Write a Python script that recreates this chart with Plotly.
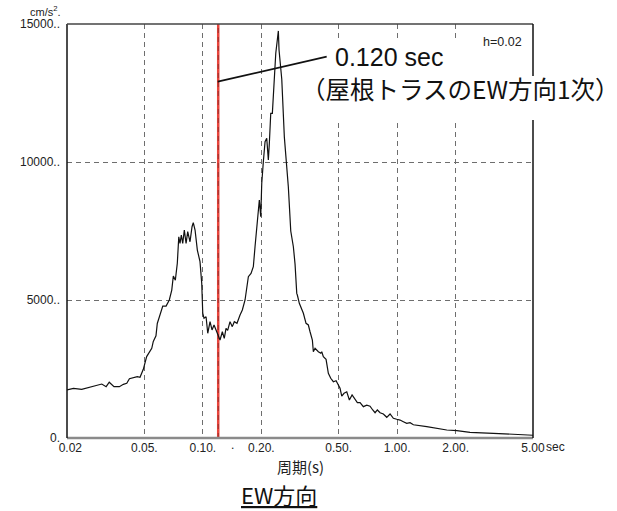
import plotly.graph_objects as go

# ---------------- data ----------------
period = [0.0200, 0.0216, 0.0238, 0.0263, 0.0284, 0.0302, 0.0318, 0.0330, 0.0349, 0.0372,
          0.0390, 0.0406, 0.0419, 0.0439, 0.0460, 0.0475, 0.0494, 0.0514, 0.0546, 0.0556,
          0.0574, 0.0583, 0.0590, 0.0607, 0.0622, 0.0647, 0.0672, 0.0692, 0.0705, 0.0722,
          0.0739, 0.0752, 0.0763, 0.0775, 0.0788, 0.0803, 0.0820, 0.0836, 0.0859, 0.0880,
          0.0893, 0.0912, 0.0937, 0.0967, 0.0987, 0.0999, 0.1014, 0.1039, 0.1060, 0.1089,
          0.1115, 0.1142, 0.1179, 0.1216, 0.1226, 0.1260, 0.1289, 0.1316, 0.1342, 0.1380,
          0.1418, 0.1452, 0.1499, 0.1554, 0.1597, 0.1649, 0.1683, 0.1715, 0.1770, 0.1819,
          0.1856, 0.1894, 0.1930, 0.1953, 0.1986, 0.2010, 0.2048, 0.2090, 0.2132, 0.2173,
          0.2199, 0.2236, 0.2279, 0.2317, 0.2373, 0.2447, 0.2467, 0.2548, 0.2627, 0.2754,
          0.2834, 0.2923, 0.2982, 0.3043, 0.3064, 0.3137, 0.3229, 0.3291, 0.3397, 0.3491,
          0.3562, 0.3661, 0.3704, 0.3780, 0.3931, 0.4044, 0.4092, 0.4170, 0.4306, 0.4424,
          0.4552, 0.4696, 0.4849, 0.4982, 0.5082, 0.5186, 0.5329, 0.5503, 0.5676, 0.5861,
          0.6071, 0.6240, 0.6443, 0.6699, 0.6975, 0.7251, 0.7487, 0.7696, 0.7907, 0.8166,
          0.8491, 0.8839, 0.9192, 0.9560, 0.9954, 1.035, 1.076, 1.120, 1.165, 1.212,
          1.420, 1.662, 1.800, 2.027, 2.372, 3.126, 3.811, 5.000]
accel = [1740, 1800, 1765, 1835, 1885, 1955, 1860, 2020, 1860, 1860,
         1945, 1980, 2150, 2185, 2220, 2200, 2490, 2950, 3250, 3500,
         3700, 4150, 4275, 4520, 4780, 4780, 5000, 5360, 5870, 5720,
         6330, 7290, 7050, 7355, 7050, 7535, 7050, 7475, 7110, 7655,
         7800, 7535, 6810, 6390, 5605, 4520, 4340, 4395, 3795, 4215,
         3915, 4095, 3850, 3550, 3550, 3850, 3610, 3970, 3900, 4215,
         4035, 4215, 4155, 4455, 4640, 5000, 5480, 5845, 5965, 6205,
         6930, 7535, 8140, 8625, 8020, 9230, 10010, 10735, 10860, 10070,
         10675, 11765, 11765, 12730, 13940, 14750, 14060, 13000, 10900, 9105,
         7500, 6930, 6300, 5240, 5180, 4880, 4640, 4520, 4155, 4095,
         3850, 3550, 3125, 3250, 3125, 3070, 3125, 2945, 2850, 2345,
         2165, 2040, 2075, 1920, 1800, 1520, 1620, 1675, 1375, 1560,
         1375, 1280, 1280, 1135, 1190, 1150, 1015, 915, 1015, 915,
         870, 750, 870, 715, 680, 650, 590, 530, 555, 480,
         410, 335, 290, 265, 205, 170, 135, 100]

marker_period = 0.120          # 0.120 sec vertical line
x_tickvals = [0.02, 0.05, 0.1, 0.2, 0.5, 1, 2, 5]
x_ticktext = ["\u00a0\u00a00.02", "0.05.", "0.10.", "0.20.", "0.50.", "1.00.", "2.00.", "5.00"]
y_tickvals = [0, 5000, 10000, 15000]
y_ticktext = ["0.", "5000..", "10000..", "15000.."]
y_max = 15000

# ---------------- layout helpers (pixel -> paper) ----------------
L, T, R, B = 67, 24, 533, 438
W, H = 617, 511


def px(x):
    return (x - L) / (R - L)


def py(y):
    return (B - y) / (B - T)


LAT = "Liberation Sans, Arial, Noto Sans CJK JP, sans-serif"
JP = "Noto Sans CJK JP, Liberation Sans, sans-serif"

fig = go.Figure()

# red marker line at 0.120 sec
fig.add_trace(go.Scatter(x=[marker_period, marker_period], y=[0, y_max], mode="lines",
                         line=dict(color="#e8453c", width=2.5), hoverinfo="skip",
                         showlegend=False))
fig.add_trace(go.Scatter(x=[marker_period, marker_period], y=[0, y_max], mode="lines",
                         line=dict(color="rgba(90,30,30,0.55)", width=1, dash="5px,4px"),
                         hoverinfo="skip", showlegend=False))

# spectrum
fig.add_trace(go.Scatter(x=period, y=accel, mode="lines",
                         line=dict(color="#111111", width=1.2),
                         showlegend=False))

grid = dict(showgrid=True, gridcolor="#6e6e6e", gridwidth=1, griddash="5px,4px")

fig.update_xaxes(type="log", range=[-1.69897, 0.69897], tickvals=x_tickvals,
                 ticktext=x_ticktext, ticks="", showline=False, zeroline=False,
                 tickfont=dict(family=LAT, size=12, color="#222"),
                 ticklabelstandoff=1, **grid)
fig.update_yaxes(range=[0, y_max], tickvals=y_tickvals, ticktext=y_ticktext,
                 ticks="", showline=False, zeroline=False,
                 tickfont=dict(family=LAT, size=12, color="#222"),
                 ticklabelstandoff=6, **grid)

shapes = [
    # frame
    dict(type="line", xref="paper", yref="paper", x0=0, x1=1, y0=0, y1=0,
         line=dict(color="#8a8a8a", width=2.5), layer="above"),
    dict(type="line", xref="paper", yref="paper", x0=0, x1=0, y0=0, y1=1,
         line=dict(color="#111", width=1.5), layer="above"),
    dict(type="line", xref="paper", yref="paper", x0=0, x1=1, y0=1, y1=1,
         line=dict(color="#444", width=1.5), layer="above"),
    dict(type="line", xref="paper", yref="paper", x0=1, x1=1, y0=0, y1=1,
         line=dict(color="#111", width=1.5), layer="above"),
    # white label backgrounds
    dict(type="rect", xref="paper", yref="paper", x0=px(330), x1=px(530),
         y0=py(76), y1=py(38), fillcolor="white", line=dict(width=0), layer="above"),
    dict(type="rect", xref="paper", yref="paper", x0=px(296), x1=px(617),
         y0=py(120), y1=py(76), fillcolor="white", line=dict(width=0), layer="above"),
    # leader line
    dict(type="line", xref="paper", yref="paper", x0=px(217.7), y0=py(81.7),
         x1=px(326.7), y1=py(56.7), line=dict(color="#111", width=1.8), layer="above"),
]

annotations = [
    dict(text="cm/s<sup>2</sup>.", x=px(63), y=py(11), xanchor="right", yanchor="middle",
         font=dict(family=LAT, size=11, color="#222")),
    dict(text="h=0.02", x=px(524), y=py(42), xanchor="right", yanchor="middle",
         font=dict(family=LAT, size=12.5, color="#222")),
    dict(text="0.120 sec", x=px(333), y=py(57), xanchor="left", yanchor="middle",
         font=dict(family=LAT, size=25, color="#111")),
    dict(text="（屋根トラスのEW方向1次）", x=px(299), y=py(88), xanchor="left",
         yanchor="middle", font=dict(family=JP, size=24.5, color="#111")),
    dict(text="sec", x=px(544), y=py(447), xanchor="left", yanchor="middle",
         font=dict(family=LAT, size=12, color="#222")),
    dict(text=".", x=px(232), y=py(445), xanchor="center", yanchor="middle",
         font=dict(family=LAT, size=12, color="#222")),
    dict(text="周期(s)", x=px(300), y=py(466), xanchor="center", yanchor="middle",
         font=dict(family=JP, size=15, color="#222")),
    dict(text="EW方向", x=px(279), y=py(494), xanchor="center", yanchor="middle",
         font=dict(family=JP, size=22, color="#111", lineposition="under")),
]
for a in annotations:
    a.update(xref="paper", yref="paper", showarrow=False)

fig.update_layout(
    width=W, height=H,
    margin=dict(l=L, r=W - R, t=T, b=H - B, pad=0),
    paper_bgcolor="white", plot_bgcolor="white",
    shapes=shapes, annotations=annotations,
    showlegend=False,
)

fig.write_html("out.html",
               config={"displayModeBar": False},
               post_script="document.body.style.margin='0';document.body.style.overflow='hidden';")
